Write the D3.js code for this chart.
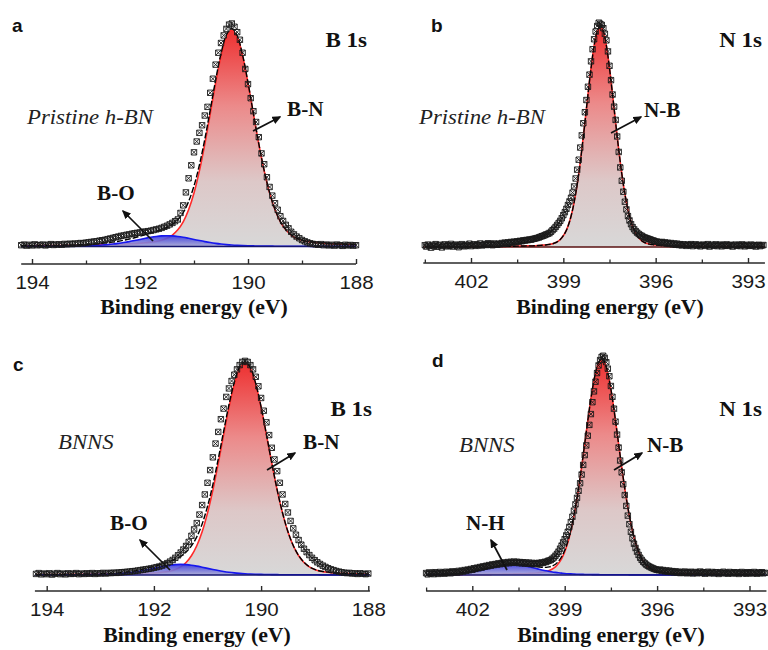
<!DOCTYPE html>
<html>
<head>
<meta charset="utf-8">
<script src="https://cdn.jsdelivr.net/npm/d3@7"></script>
<style>
  html, body { margin: 0; padding: 0; background: #fff; }
  svg { display: block; }
</style>
</head>
<body>
<svg id="fig" width="768" height="650"></svg>
<script>
// ---- Scan settings (binding energy, eV) ----
const b1sStart = 194.2;   // B 1s scans run from 194.2 eV down to 188.0 eV
const n1sStart = 403.5;   // N 1s scans run from 403.5 eV down to 392.5 eV
const scanStep = 0.05;    // measured points
const fitStep = 0.1;      // fitted components

// ---- Measured intensities (a.u., fitted B-N / N-B maximum = 100) ----
const pristineB1s = [
  0.6,0.9,0.4,0.8,0.5,1.0,0.6,0.7,0.9,0.5,
  0.8,1.1,0.7,0.9,1.0,0.8,1.2,1.0,1.3,1.1,
  1.4,1.3,1.6,1.5,1.8,1.9,2.1,2.3,2.4,2.7,2.9,
  3.1,3.4,3.7,4.0,4.3,4.6,4.9,5.1,5.4,5.6,5.9,6.1,6.3,6.5,6.7,6.9,7.1,7.3,7.6,7.9,
  8.2,8.6,9.1,9.6,10.2,10.9,11.7,
  12.5,15.5,19.0,25.0,31.5,37.5,43.5,48.5,52.5,56.0,60.5,64.5,71.0,77.5,84.0,89.5,
  94.0,97.5,100.5,102.5,103.0,101.5,99.0,95.5,89.5,82.0,75.0,68.5,62.5,57.5,50.5,43.0,
  38.0,32.0,27.5,23.5,20.0,17.0,14.0,11.8,10.0,8.4,6.8,5.6,4.6,3.8,3.0,
  2.4,1.9,1.5,1.2,1.0,0.8,1.1,0.6,0.9,0.5,0.8,0.4,0.9,0.6,0.3,0.8,0.5,0.7,0.4,0.6
];
const pristineN1s = [
  0.8,0.2,1.1,0.5,-0.3,0.9,0.4,1.3,0.1,0.7,
  1.0,-0.2,0.6,1.2,0.3,0.9,0.5,1.4,0.2,0.8,
  1.1,0.4,-0.1,0.9,1.3,0.6,0.3,1.0,0.7,1.5,
  0.4,0.9,1.2,0.5,1.1,0.8,1.6,0.7,1.0,1.3,
  0.9,1.7,1.1,1.4,0.8,1.6,1.2,1.0,1.5,1.3,
  1.8,1.4,2.0,1.6,2.1,1.8,2.3,2.0,2.4,2.2,
  2.6,2.4,2.8,2.6,3.0,2.9,3.2,3.1,3.4,3.3,3.6,3.7,
  3.9,4.1,4.3,4.6,4.9,5.1,5.4,5.7,6.0,6.3,
  6.9,7.6,8.3,9.1,10.0,10.9,11.8,13.0,14.4,15.8,
  17.3,19.0,20.6,22.3,24.6,27.4,31.0,35.0,39.5,45.0,
  50.5,56.0,61.0,66.5,72.5,78.0,84.0,89.5,94.0,97.5,
  100.0,101.5,101.0,100.5,99.0,96.5,93.5,88.5,82.0,75.5,
  69.0,63.5,57.5,50.0,43.0,36.0,30.0,25.0,20.5,17.0,
  14.0,12.0,10.3,9.0,8.0,7.2,6.5,5.9,5.4,5.0,
  4.6,4.3,4.0,3.8,3.5,3.3,3.0,2.8,2.5,2.4,
  2.2,2.0,2.3,1.8,2.1,1.6,1.9,1.4,1.8,1.2,
  1.6,1.0,1.5,0.9,1.3,0.7,1.2,1.0,0.5,1.1,
  0.8,1.3,0.4,0.9,1.2,0.6,1.0,0.3,0.8,1.1,
  0.5,0.9,1.3,0.2,0.7,1.0,0.6,1.2,0.4,0.8,
  1.1,0.3,0.9,0.6,1.2,0.5,0.8,1.0,0.2,0.7,
  1.1,0.6,0.9,0.4,1.2,0.8,0.3,1.0,0.7,0.5,
  1.1,0.6,0.9,0.2,0.8,1.0,0.4,0.7,0.9
];
const bnnsB1s = [
  0.5,0.9,0.3,0.7,0.4,0.8,0.2,0.6,0.9,0.4,
  0.7,0.3,0.8,0.5,0.6,0.9,0.4,0.7,0.5,0.8,
  0.6,0.9,0.5,0.8,0.7,1.0,0.7,1.0,0.9,1.1,
  1.0,1.2,1.3,1.4,
  1.5,1.6,1.8,1.9,2.1,2.3,2.5,2.7,2.9,3.1,3.4,3.7,4.0,4.4,5.0,5.6,6.3,7.1,8.1,9.3,
  10.6,12.0,13.7,15.6,
  18.5,21.5,24.5,28.5,33.0,38.0,43.5,49.5,55.5,62.0,67.5,73.5,78.5,84.0,88.0,91.5,
  94.5,97.0,99.0,100.5,101.0,100.5,99.0,97.0,93.5,89.0,83.5,77.5,72.0,66.0,60.0,54.5,
  49.0,43.5,38.0,33.5,29.5,25.5,22.0,19.0,16.5,14.3,12.4,10.8,9.4,8.1,7.0,
  6.0,5.2,4.4,3.8,3.2,2.7,2.3,1.9,1.6,1.3,1.1,0.9,1.0,0.7,0.8,0.5,0.8,0.6,0.4,0.7
];
const bnnsN1s = [
  0.9,0.3,1.2,0.6,1.0,0.4,1.3,0.8,0.5,1.4,
  0.9,1.1,0.6,1.5,1.0,1.3,0.8,1.7,1.2,1.5,
  1.1,1.9,1.4,2.0,1.6,2.3,1.9,2.5,2.2,2.8,
  2.4,3.1,2.8,3.4,3.1,3.7,3.4,4.0,3.8,4.3,
  4.0,4.6,4.3,4.9,4.6,5.1,4.8,5.4,5.0,5.6,5.2,
  5.8,5.4,6.0,5.5,6.1,5.6,6.2,5.7,6.1,5.5,
  6.0,5.4,5.9,5.3,5.8,5.2,5.7,5.1,5.6,5.0,
  5.5,5.1,5.6,5.3,5.8,5.6,6.1,6.0,6.5,6.7,
  7.0,7.5,8.1,8.9,9.8,10.8,12.2,13.6,15.1,16.6,
  18.3,20.0,22.2,24.5,27.0,29.8,32.7,35.7,39.0,42.5,
  46.5,51.0,55.5,60.0,64.5,69.5,74.5,80.0,85.0,89.5,
  93.5,97.0,99.5,101.0,101.5,100.5,98.5,95.5,92.0,87.5,
  82.5,77.0,71.0,65.0,59.0,53.0,47.5,42.0,37.0,32.0,
  27.5,23.5,20.0,17.0,14.5,12.5,10.8,9.3,8.0,7.0,
  6.1,5.4,4.8,4.3,3.9,3.5,3.2,2.9,2.6,2.4,
  2.2,2.5,1.9,2.3,1.7,2.1,1.5,2.0,1.4,1.8,
  1.2,1.7,1.1,1.5,0.9,1.4,1.0,1.6,0.8,1.3,
  1.0,1.5,0.7,1.2,1.4,0.8,1.1,1.6,0.9,1.3,
  0.6,1.2,1.5,0.8,1.0,1.4,0.7,1.3,1.1,0.5,
  1.2,0.9,1.5,0.8,1.1,0.6,1.4,1.0,0.7,1.3,
  0.9,1.2,0.5,1.1,1.4,0.8,1.0,0.6,1.3,0.9,
  1.1,0.7,1.4,1.0,0.6,1.2,0.9,1.3,0.8,1.0
];

// ---- Fitted components, 0.1 eV spacing from the scan start ----
const fitPristineBN = [
  0.3,0.3,0.3,0.4,0.4,0.4,0.4,0.4,0.5,0.5,
  0.5,0.6,0.6,0.7,0.7,0.8,0.8,0.9,1.0,1.1,
  1.2,1.3,1.5,1.7,2.0,2.3,2.9,3.8,5.3,7.7,
  11.4,17.0,24.7,34.9,47.3,61.2,75.4,88.0,96.8,
  100,
  96.8,88.0,75.4,61.2,47.3,34.9,24.7,17.0,11.4,7.7,
  5.3,3.8,2.9,2.3,2.0,1.7,1.5,1.3,1.2,1.1,
  1.0,0.9,0.8
];
const fitPristineBO = [
  0.08,0.09,0.10,0.10,0.11,0.12,0.13,0.15,0.17,0.19,
  0.22,0.27,0.32,0.41,0.52,0.67,0.87,1.12,1.44,1.82,
  2.26,2.75,3.27,3.78,4.26,4.65,4.91,
  5.0,
  4.91,4.65,4.26,3.78,3.27,2.75,2.26,1.82,1.44,1.12,
  0.87,0.67,0.52,0.41,0.32,0.27,0.22,0.19,0.17,0.15,
  0.13,0.12,0.11,0.10,0.09,0.09,0.08,0.08,0.07,0.07,0.06,0.06,0.06,0.05,0.05
];
const fitPristineNB = [
  0.09,0.09,0.10,0.10,0.10,0.10,0.11,0.11,0.12,0.12,
  0.13,0.13,0.14,0.14,0.15,0.15,0.16,0.17,0.18,0.19,
  0.20,0.21,0.22,0.24,0.25,0.27,0.29,0.31,0.33,0.36,
  0.39,0.42,0.46,0.5,0.5,0.5,0.6,0.7,0.8,0.9,
  1.1,1.3,1.7,2.3,3.4,5.1,7.6,11.4,16.8,24.0,
  33.1,44.0,56.2,68.9,80.9,91.0,97.6,
  100,
  97.6,91.0,80.9,68.9,56.2,44.0,33.1,24.0,16.8,11.4,
  7.6,5.1,3.4,2.3,1.7,1.3,1.1,0.9,0.8,0.7,
  0.6,0.5,0.5,0.5,0.46,0.42,0.39,0.36,0.33,0.31,
  0.29,0.27,0.25,0.24,0.22,0.21,0.20,0.19,0.18,0.17,
  0.16,0.15,0.15,0.14,0.14,0.13,0.13,0.12,0.12,0.12,
  0.11,0.11,0.10
];
const fitBnnsBN = [
  0.2,0.2,0.2,0.2,0.2,0.2,0.3,0.3,0.3,0.3,
  0.3,0.3,0.3,0.4,0.4,0.4,0.4,0.5,0.5,0.6,
  0.7,0.8,0.9,1.1,1.4,1.8,2.6,3.8,5.9,9.1,
  13.8,20.4,29.2,40.0,52.6,66.0,79.0,89.9,97.4,
  100,
  97.4,89.9,79.0,66.0,52.6,40.0,29.2,20.4,13.8,9.1,
  5.9,3.8,2.6,1.8,1.4,1.1,0.9,0.8,0.7,0.6,
  0.55,0.5,0.45
];
const fitBnnsBO = [
  0.07,0.08,0.09,0.09,0.10,0.11,0.12,0.13,0.14,0.16,
  0.19,0.23,0.28,0.35,0.44,0.58,0.76,0.99,1.30,1.67,
  2.10,2.60,3.14,3.68,4.19,4.62,4.90,
  5.0,
  4.90,4.62,4.19,3.68,3.14,2.60,2.10,1.67,1.30,0.99,
  0.76,0.58,0.44,0.35,0.28,0.23,0.19,0.16,0.14,0.13,
  0.12,0.11,0.10,0.09,0.09,0.08,0.08,0.07,0.07,0.06,0.06,0.06,0.05,0.05,0.05
];
const fitBnnsNB = [
  0.13,0.13,0.14,0.14,0.15,0.15,0.16,0.16,0.17,0.17,
  0.18,0.19,0.20,0.21,0.22,0.23,0.24,0.25,0.26,0.27,
  0.29,0.31,0.33,0.35,0.37,0.39,0.42,0.45,0.48,0.52,
  0.55,0.58,0.6,0.7,0.75,0.8,0.95,1.1,1.3,1.6,
  2.1,2.8,3.8,5.4,7.6,10.7,14.9,20.4,27.3,35.5,
  44.9,55.2,66.0,76.5,85.9,93.4,98.3,
  100,
  98.3,93.4,85.9,76.5,66.0,55.2,44.9,35.5,27.3,20.4,
  14.9,10.7,7.6,5.4,3.8,2.8,2.1,1.6,1.3,1.1,
  0.95,0.8,0.75,0.7,0.6,0.58,0.55,0.52,0.48,0.45,
  0.42,0.39,0.37,0.35,0.33,0.31,0.29,0.28,0.27,0.26,
  0.25,0.24,0.23,0.22,0.21,0.20,0.19,0.18,0.18,0.17,
  0.16,0.16,0.15
];
const fitBnnsNH = [
  0.16,0.17,0.19,0.21,0.24,0.27,0.31,0.36,0.42,0.50,
  0.59,0.71,0.85,1.01,1.20,1.41,1.67,1.95,2.24,2.56,
  2.90,3.24,3.58,3.90,4.19,4.44,4.64,4.76,
  4.80,
  4.76,4.64,4.44,4.19,3.90,3.58,3.24,2.90,2.56,2.24,
  1.95,1.67,1.41,1.20,1.01,0.85,0.71,0.59,0.50,0.42,
  0.36,0.31,0.27,0.24,0.21,0.19,0.17,0.16,0.14,0.13,
  0.12,0.11,0.11,0.10,0.10,0.09,0.09,0.08,0.08,0.08,
  0.07,0.07,0.07,0.06,0.06,0.06,0.06,0.05,0.05,0.05,
  0.05,0.05,0.04,0.04,0.04,0.04,0.04,0.04,0.04,0.03,
  0.03,0.03,0.03,0.03,0.03,0.03,0.03,0.03,0.03,0.03,
  0.03,0.03,0.03,0.02,0.02,0.02,0.02,0.02,0.02,0.02,0.02,0.02
];

// ---- Axis ticks ----
const b1sTicks = [194, 192, 190, 188];
const b1sMinorTicks = [193, 191, 189];
const n1sTicks = [402, 399, 396, 393];
const n1sMinorTicks = [403.5, 400.5, 397.5, 394.5];

// ---- Panel texts ----
const panelLetters = ["a", "b", "c", "d"];
const coreLevels = ["B 1s", "N 1s", "B 1s", "N 1s"];
const sampleNames = ["Pristine h-BN", "Pristine h-BN", "BNNS", "BNNS"];
const mainBonds = ["B-N", "N-B", "B-N", "N-B"];
const minorBonds = ["B-O", null, "B-O", "N-H"];
const axisTitle = "Binding energy (eV)";

// ---- Layout & styling ----
const SERIF = '"Liberation Serif","Times New Roman",Times,serif';
const SANS = '"Liberation Sans",Arial,Helvetica,sans-serif';
const TEXT_STRETCH = 1.12;   // glyphs in the figure are slightly wide
const TICK_STRETCH = 1.14;

const panels = [
  { scan: pristineB1s, start: b1sStart, main: fitPristineBN, minor: fitPristineBO,
    ticks: b1sTicks, minorTicks: b1sMinorTicks, span: [194.2, 188.0],
    xDomain: [194, 188], xRange: [32, 356], yRange: [246.5, 30], axisY: 264,
    letterPos: [12, 32], corePos: [367, 47], samplePos: [27, 124], titleX: 194, titleY: 314,
    mainLabel: [287, 116], mainArrow: [[253, 131], [280, 117]],
    minorLabel: [97, 200], minorArrow: [[153, 241], [123, 211]], baseColor: "#15156e" },
  { scan: pristineN1s, start: n1sStart, main: fitPristineNB, minor: null,
    ticks: n1sTicks, minorTicks: n1sMinorTicks, span: [403.55, 392.45],
    xDomain: [402, 393], xRange: [471, 748], yRange: [247, 26], axisY: 263,
    letterPos: [431, 32], corePos: [762, 47], samplePos: [419, 124], titleX: 610, titleY: 314,
    mainLabel: [644, 117], mainArrow: [[611, 133], [641, 117]],
    minorLabel: null, minorArrow: null, baseColor: "#5a1212" },
  { scan: bnnsB1s, start: b1sStart, main: fitBnnsBN, minor: fitBnnsBO,
    ticks: b1sTicks, minorTicks: b1sMinorTicks, span: [194.22, 187.97],
    xDomain: [194, 188], xRange: [46.7, 368.3], yRange: [575, 363], axisY: 591,
    letterPos: [13, 371], corePos: [372, 416], samplePos: [58, 449], titleX: 197, titleY: 642,
    mainLabel: [303, 449], mainArrow: [[267, 470], [295, 453]],
    minorLabel: [110, 530], minorArrow: [[170, 570], [140, 540]], baseColor: "#15156e" },
  { scan: bnnsN1s, start: n1sStart, main: fitBnnsNB, minor: fitBnnsNH,
    ticks: n1sTicks, minorTicks: n1sMinorTicks, span: [403.5, 392.45],
    xDomain: [402, 393], xRange: [472.3, 749.5], yRange: [575, 359], axisY: 591,
    letterPos: [432, 367], corePos: [762, 416], samplePos: [459, 452], titleX: 611, titleY: 642,
    mainLabel: [647, 452], mainArrow: [[614, 470], [642, 453]],
    minorLabel: [466, 530], minorArrow: [[507, 570], [491, 540]], baseColor: "#15156e" }
];

const fig = d3.select("#fig");
const defs = fig.append("defs");

defs.append("marker")
  .attr("id", "arrowHead")
  .attr("markerUnits", "userSpaceOnUse")
  .attr("markerWidth", 9).attr("markerHeight", 8)
  .attr("refX", 7.5).attr("refY", 4)
  .attr("orient", "auto")
  .append("path")
  .attr("d", "M0,0 L9,4 L0,8 Z")
  .attr("fill", "#111");

// open square with a cross, the scan marker
const markerPath = "M-2.7,-2.7h5.4v5.4h-5.4zM-2.7,-2.7l5.4,5.4M2.7,-2.7l-5.4,5.4";

const toPoints = (vals, start, step) =>
  vals.map((v, i) => ({ e: +(start - i * step).toFixed(3), v }));

// text placed at (x, y) and widened horizontally around its anchor
function addText(g, x, y, str, o) {
  return g.append("text")
    .attr("transform", `translate(${x},${y}) scale(${o.sx || 1},1)`)
    .attr("text-anchor", o.anchor || "start")
    .attr("font-family", o.family)
    .attr("font-weight", o.weight || "normal")
    .attr("font-style", o.style || "normal")
    .attr("font-size", o.size)
    .attr("fill", o.fill || "#111")
    .text(str);
}

panels.forEach((p, idx) => {
  const g = fig.append("g").attr("class", "panel panel-" + panelLetters[idx]);
  const x = d3.scaleLinear().domain(p.xDomain).range(p.xRange);
  const y = d3.scaleLinear().domain([0, 100]).range(p.yRange);

  const scanPts = toPoints(p.scan, p.start, scanStep);
  const mainPts = toPoints(p.main, p.start, fitStep);
  const minorPts = p.minor ? toPoints(p.minor, p.start, fitStep) : null;
  const envPts = mainPts.map((d, i) => ({ e: d.e, v: d.v + (minorPts ? minorPts[i].v : 0) }));

  // gradients
  const gMain = defs.append("linearGradient")
    .attr("id", "gradMain" + idx).attr("gradientUnits", "userSpaceOnUse")
    .attr("x1", 0).attr("x2", 0).attr("y1", y(100)).attr("y2", y(0));
  [[0, "#ee3030"], [0.35, "#ec8a8a"], [0.7, "#ddc8c8"], [1, "#d8d8d8"]]
    .forEach(([o, c]) => gMain.append("stop").attr("offset", o).attr("stop-color", c));
  const gMinor = defs.append("linearGradient")
    .attr("id", "gradMinor" + idx).attr("gradientUnits", "userSpaceOnUse")
    .attr("x1", 0).attr("x2", 0).attr("y1", y(5.5)).attr("y2", y(0));
  [[0, "#2b2be0"], [1, "#a9a9d6"]]
    .forEach(([o, c]) => gMinor.append("stop").attr("offset", o).attr("stop-color", c));

  const area = d3.area().x(d => x(d.e)).y0(y(0)).y1(d => y(d.v)).curve(d3.curveCatmullRom);
  const line = d3.line().x(d => x(d.e)).y(d => y(d.v)).curve(d3.curveCatmullRom);

  // main component
  g.append("path").attr("d", area(mainPts)).attr("fill", `url(#gradMain${idx})`);
  g.append("path").attr("d", line(mainPts)).attr("fill", "none")
    .attr("stroke", "#ff2a2a").attr("stroke-width", 1.6);

  // minor component
  if (minorPts) {
    g.append("path").attr("d", area(minorPts)).attr("fill", `url(#gradMinor${idx})`)
      .attr("fill-opacity", 0.9);
    g.append("path").attr("d", line(minorPts)).attr("fill", "none")
      .attr("stroke", "#1717ee").attr("stroke-width", 1.6);
  }

  // baseline of the fit
  g.append("line")
    .attr("x1", x(p.span[0])).attr("x2", x(p.span[1]))
    .attr("y1", y(0)).attr("y2", y(0))
    .attr("stroke", p.baseColor).attr("stroke-width", 1.6);

  // envelope
  g.append("path").attr("d", line(envPts)).attr("fill", "none")
    .attr("stroke", "#000").attr("stroke-width", 1.4).attr("stroke-dasharray", "6,2");

  // measured points
  g.append("g").selectAll("path").data(scanPts).join("path")
    .attr("transform", d => `translate(${x(d.e).toFixed(2)},${y(d.v).toFixed(2)})`)
    .attr("d", markerPath)
    .attr("fill", "none").attr("stroke", "#1a1a1a").attr("stroke-width", 0.9);

  // axis
  const axisG = g.append("g").attr("transform", `translate(0,${p.axisY})`);
  axisG.append("line")
    .attr("x1", x(p.span[0])).attr("x2", x(p.span[1]))
    .attr("stroke", "#2a2a2a").attr("stroke-width", 1.6);
  const major = d3.axisBottom(x).tickValues(p.ticks).tickSizeInner(-5).tickSizeOuter(0)
    .tickPadding(12).tickFormat(d3.format("d"));
  const majorG = axisG.append("g").call(major);
  majorG.select(".domain").remove();
  majorG.selectAll(".tick line").attr("stroke", "#2a2a2a").attr("stroke-width", 1.4);
  majorG.selectAll(".tick text")
    .attr("font-family", SANS).attr("font-size", 18).attr("fill", "#1a1a1a")
    .attr("transform", `scale(${TICK_STRETCH},1)`);
  const minorAx = d3.axisBottom(x).tickValues(p.minorTicks).tickSizeInner(-3.5)
    .tickSizeOuter(0).tickFormat("");
  const minorG = axisG.append("g").call(minorAx);
  minorG.select(".domain").remove();
  minorG.selectAll(".tick line").attr("stroke", "#2a2a2a").attr("stroke-width", 1.3);

  addText(g, p.titleX, p.titleY, axisTitle,
    { family: SERIF, weight: "bold", size: 20, anchor: "middle", sx: 1.09 });

  // annotations
  addText(g, p.letterPos[0], p.letterPos[1], panelLetters[idx],
    { family: SANS, weight: "bold", size: 19 });
  addText(g, p.corePos[0], p.corePos[1], coreLevels[idx],
    { family: SERIF, weight: "bold", size: 20, anchor: "end", sx: 1.15 });
  addText(g, p.samplePos[0], p.samplePos[1], sampleNames[idx],
    { family: SERIF, style: "italic", size: 20, sx: 1.14, fill: "#222" });

  const bondLabel = (pos, arrow, label) => {
    addText(g, pos[0], pos[1], label,
      { family: SERIF, weight: "bold", size: 20, sx: TEXT_STRETCH - 0.06 });
    g.append("line")
      .attr("x1", arrow[0][0]).attr("y1", arrow[0][1])
      .attr("x2", arrow[1][0]).attr("y2", arrow[1][1])
      .attr("stroke", "#111").attr("stroke-width", 1.7)
      .attr("marker-end", "url(#arrowHead)");
  };
  bondLabel(p.mainLabel, p.mainArrow, mainBonds[idx]);
  if (minorBonds[idx]) bondLabel(p.minorLabel, p.minorArrow, minorBonds[idx]);
});
</script>
</body>
</html>
